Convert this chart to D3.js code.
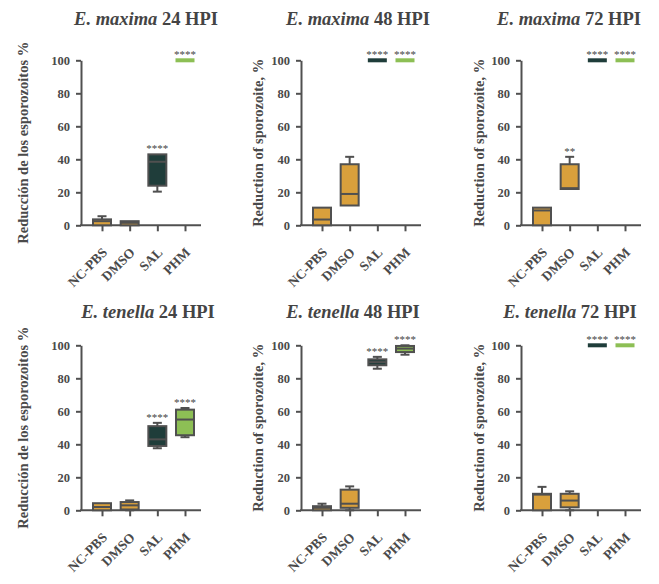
<!DOCTYPE html>
<html>
<head>
<meta charset="utf-8">
<script src="https://cdn.jsdelivr.net/npm/d3@7"></script>
<style>
  body { margin: 0; background: #fff; }
  text { font-family: "Liberation Serif", "Times New Roman", serif; font-weight: bold; fill: #4a4a4a; }
</style>
</head>
<body>
<div id="chart"></div>
<script>
// Groups shown on every panel
const categories = ["NC-PBS", "DMSO", "SAL", "PHM"];
const yTicks = [0, 20, 40, 60, 80, 100];

// Panel titles
const species = ["E. maxima", "E. maxima", "E. maxima", "E. tenella", "E. tenella", "E. tenella"];
const hours = ["24 HPI", "48 HPI", "72 HPI", "24 HPI", "48 HPI", "72 HPI"];
const yLabels = [
    "Reducción de los esporozoitos %", "Reduction of sporozoite, %", "Reduction of sporozoite, %",
    "Reducción de los esporozoitos %", "Reduction of sporozoite, %", "Reduction of sporozoite, %"
];

// Box stats per group: [min, q1, median, q3, max]
const maxima24 = [[0, 0, 2.5, 3.6, 5.5], [0, 0, 1.5, 2.5, 2.5], [20.4, 24, 38.5, 43, 43], [100, 100, 100, 100, 100]];
const maxima48 = [[0, 0, 3.5, 10.7, 10.7], [12, 12, 19, 37, 41.5], [100, 100, 100, 100, 100], [100, 100, 100, 100, 100]];
const maxima72 = [[0, 0, 9, 10.7, 10.7], [22, 22, 22.5, 37, 41.5], [100, 100, 100, 100, 100], [100, 100, 100, 100, 100]];
const tenella24 = [[0, 0, 2, 4.3, 4.3], [0, 0.5, 3, 5, 6], [37.6, 39, 43, 51, 53], [44.3, 45.5, 55, 61, 62]];
const tenella48 = [[0, 0, 1.5, 2.5, 4], [0, 1.5, 4, 12.5, 14.5], [85.8, 87.9, 89.8, 91.5, 93], [94.3, 95.9, 98, 99.6, 100]];
const tenella72 = [[0, 0, 9.5, 10, 14.2], [0, 1.8, 5.9, 10, 11.5], [100, 100, 100, 100, 100], [100, 100, 100, 100, 100]];

// Significance marks per group
const stars24m = ["", "", "****", "****"];
const stars48m = ["", "", "****", "****"];
const stars72m = ["", "**", "****", "****"];
const stars24t = ["", "", "****", "****"];
const stars48t = ["", "", "****", "****"];
const stars72t = ["", "", "****", "****"];

const panelStats = [maxima24, maxima48, maxima72, tenella24, tenella48, tenella72];
const panelStars = [stars24m, stars48m, stars72m, stars24t, stars48t, stars72t];

const colors = { "NC-PBS": "#d9a03c", "DMSO": "#d9a03c", "SAL": "#1f3d3a", "PHM": "#8dbf55" };
const ink = "#505050";

const width = 659, height = 584;
const svg = d3.select("#chart").append("svg")
    .attr("width", width)
    .attr("height", height);

// Layout of the 3 x 2 grid
const colAxisX = [81, 301, 521];
const colLabelGap = [53, 38, 37];
const rowTop = [60.3, 345.3];
const rowTitleY = [25, 318];
const titleCenters = [146, 358, 569, 148, 353, 570];
const plotH = 165;
const plotW = 120;

panelStats.forEach((stats, i) => {
    const col = i % 3, row = Math.floor(i / 3);
    const ox = colAxisX[col], oy = rowTop[row];

    const g = svg.append("g").attr("transform", `translate(${ox},${oy})`);

    const yScale = d3.scaleLinear().domain([0, 100]).range([plotH, 0]);
    const xScale = d3.scalePoint().domain(categories).range([21, 104]);

    // Title
    const title = svg.append("text")
        .attr("x", titleCenters[i])
        .attr("y", rowTitleY[row])
        .attr("text-anchor", "middle")
        .style("font-size", "18.5px")
        .style("fill", "#444");
    title.append("tspan").style("font-style", "italic").text(species[i]);
    title.append("tspan").text(" " + hours[i]);

    // Y axis label
    svg.append("text")
        .attr("transform", `translate(${ox - colLabelGap[col]}, ${oy + plotH / 2}) rotate(-90)`)
        .attr("text-anchor", "middle")
        .style("font-size", "14.5px")
        .text(yLabels[i]);

    // Y axis
    const yAxis = g.append("g")
        .call(d3.axisLeft(yScale).tickValues(yTicks).tickSize(5).tickPadding(6).tickSizeOuter(0));
    yAxis.select(".domain").attr("stroke", ink).attr("stroke-width", 2);
    yAxis.selectAll(".tick line").attr("stroke", ink).attr("stroke-width", 2);
    yAxis.selectAll("text")
        .attr("font-family", "Liberation Serif, serif")
        .attr("font-size", 12.5)
        .attr("fill", "#555");

    // X axis: ticks only, labels drawn separately
    const xAxis = g.append("g")
        .attr("transform", `translate(0,${plotH})`)
        .call(d3.axisBottom(xScale).tickSize(6).tickSizeOuter(0).tickFormat(""));
    xAxis.select(".domain").remove();
    xAxis.selectAll(".tick line").attr("stroke", ink).attr("stroke-width", 2);
    g.append("line")
        .attr("x1", -1).attr("x2", plotW)
        .attr("y1", plotH).attr("y2", plotH)
        .attr("stroke", ink).attr("stroke-width", 2);

    // Slanted group labels
    g.selectAll(".x-label")
        .data(categories)
        .enter().append("text")
        .attr("class", "x-label")
        .attr("transform", d => `translate(${xScale(d) + 6}, ${plotH + 28}) rotate(-45)`)
        .attr("text-anchor", "end")
        .style("font-size", "13.5px")
        .text(d => d);

    // Boxes
    const boxW = 18, capW = 9;
    const boxes = g.selectAll(".box")
        .data(categories.map((c, j) => ({ cat: c, s: stats[j], star: panelStars[i][j] })))
        .enter().append("g")
        .attr("class", "box")
        .attr("transform", d => `translate(${xScale(d.cat)},0)`);

    boxes.each(function (d) {
        const b = d3.select(this);
        const [mn, q1, md, q3, mx] = d.s;
        if (mn === mx) {
            // All replicates identical: a flat coloured bar
            b.append("rect")
                .attr("x", -boxW / 2 - 0.5).attr("width", boxW + 1)
                .attr("y", yScale(md) - 2).attr("height", 4)
                .attr("fill", colors[d.cat]);
        } else {
            b.append("line")
                .attr("x1", 0).attr("x2", 0)
                .attr("y1", yScale(q3)).attr("y2", yScale(mx))
                .attr("stroke", ink).attr("stroke-width", 2);
            b.append("line")
                .attr("x1", 0).attr("x2", 0)
                .attr("y1", yScale(q1)).attr("y2", yScale(mn))
                .attr("stroke", ink).attr("stroke-width", 2);
            [mx, mn].forEach(v => {
                if (v !== q3 && v !== q1) {
                    b.append("line")
                        .attr("x1", -capW / 2).attr("x2", capW / 2)
                        .attr("y1", yScale(v)).attr("y2", yScale(v))
                        .attr("stroke", ink).attr("stroke-width", 2);
                }
            });
            b.append("rect")
                .attr("x", -boxW / 2).attr("width", boxW)
                .attr("y", yScale(q3)).attr("height", yScale(q1) - yScale(q3))
                .attr("fill", colors[d.cat])
                .attr("stroke", ink).attr("stroke-width", 2);
            b.append("line")
                .attr("x1", -boxW / 2).attr("x2", boxW / 2)
                .attr("y1", yScale(md)).attr("y2", yScale(md))
                .attr("stroke", ink).attr("stroke-width", 2);
        }
        if (d.star) {
            b.append("text")
                .attr("x", 0)
                .attr("y", yScale(mx) - 2)
                .attr("text-anchor", "middle")
                .style("font-size", "11px")
                .style("font-weight", "normal")
                .style("fill", "#444")
                .text(d.star);
        }
    });
});
</script>
</body>
</html>
